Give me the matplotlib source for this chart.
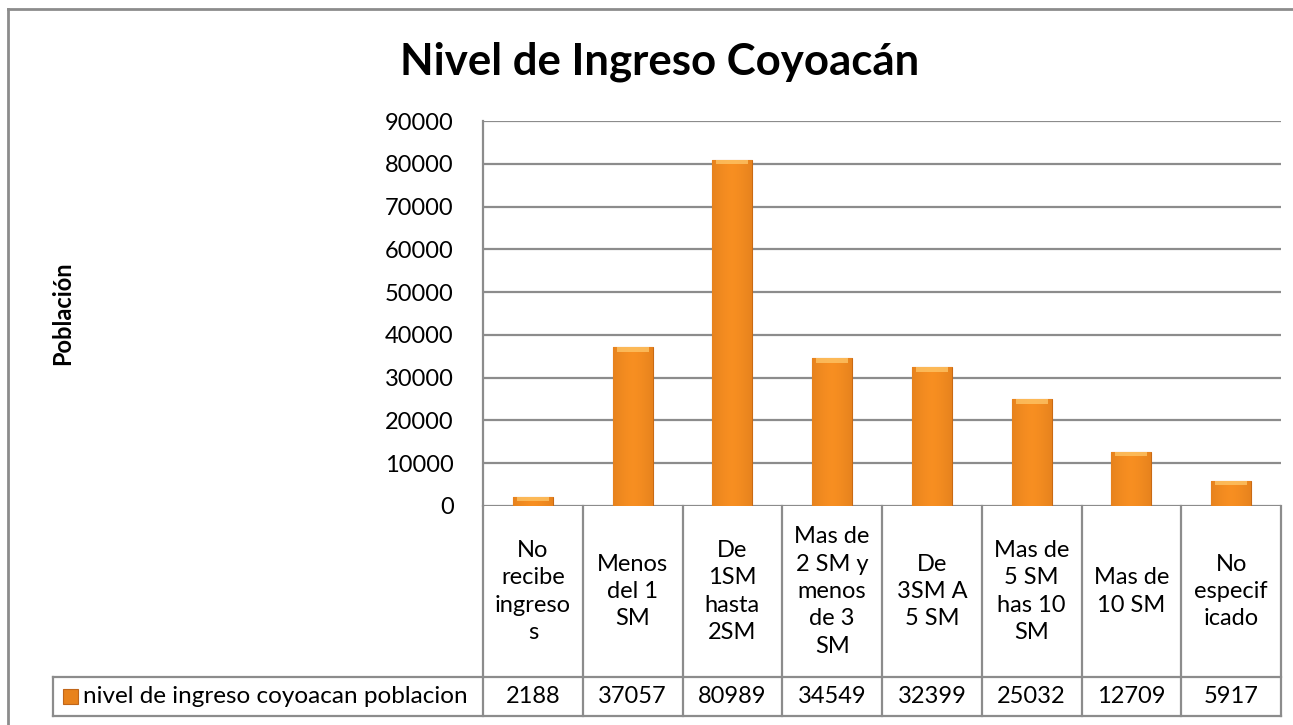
import matplotlib.pyplot as plt
import matplotlib.transforms as mtransforms
import numpy as np

categories = [
    "No\nrecibe\ningreso\ns",
    "Menos\ndel 1\nSM",
    "De\n1SM\nhasta\n2SM",
    "Mas de\n2 SM y\nmenos\nde 3\nSM",
    "De\n3SM A\n5 SM",
    "Mas de\n5 SM\nhas 10\nSM",
    "Mas de\n10 SM",
    "No\nespecif\nicado",
]
poblacion = [2188, 37057, 80989, 34549, 32399, 25032, 12709, 5917]
serie = "nivel de ingreso coyoacan poblacion"
yticks = list(range(0, 90001, 10000))

plt.rcParams['font.family'] = ['Lato', 'DejaVu Sans']

W, H = 1293, 725
fig = plt.figure(figsize=(W / 100, H / 100), dpi=100)

# plot area in pixels
x0, x1 = 483, 1281
y_top, y_zero = 121, 506
ax = fig.add_axes([x0 / W, 1 - y_zero / H, (x1 - x0) / W, (y_zero - y_top) / H])
ax.set_xlim(-0.5, len(categories) - 0.5)
ax.set_ylim(0, 90000)

fs = 17
grid_col = "#8c8c8c"
for v in yticks:
    ax.axhline(v, color=grid_col, lw=1.6, zorder=1)
ax.set_yticks(yticks)
ax.set_yticklabels([str(v) for v in yticks], fontsize=fs)
ax.tick_params(axis="y", length=0, pad=21)
ax.set_xticks([])
for s in ["top", "right", "bottom"]:
    ax.spines[s].set_visible(False)
ax.spines["left"].set_color(grid_col)
ax.spines["left"].set_linewidth(1.6)

# bars with a horizontal gradient
x = np.arange(len(categories))
bars = ax.bar(x, poblacion, width=0.4, color="#f28a1e", edgecolor="#c96a14",
              linewidth=0.8, zorder=2)
grad = np.linspace(-1, 1, 200)
shade = 1 - 0.35 * np.abs(grad) ** 1.5
base = np.array([0.97, 0.56, 0.13])
dark = np.array([0.78, 0.42, 0.09])
img = (dark[None, :] + (base - dark)[None, :] * shade[:, None])[None, :, :]
for b in bars:
    bx, bw, bh = b.get_x(), b.get_width(), b.get_height()
    im = ax.imshow(img, extent=[bx, bx + bw, 0, bh], aspect="auto", zorder=2.5)
    im.set_clip_path(b)
    # light top cap
    cap = min(1100, bh * 0.5)
    ax.bar(bx + bw / 2, cap, width=bw * 0.8, bottom=bh - cap,
           color="#ffc86a", alpha=0.75, zorder=3, linewidth=0)

# data table below the axis
trans = mtransforms.blended_transform_factory(ax.transData, ax.transAxes)
ph = y_zero - y_top
row1 = -(677 - y_zero) / ph
row2 = -(716 - y_zero) / ph
leg_left = (53 - x0) / (x1 - x0)

lkw = dict(color=grid_col, lw=1.6, clip_on=False, zorder=1)
for i in range(len(categories) + 1):
    ax.plot([i - 0.5, i - 0.5], [0, row2], transform=trans, **lkw)
ax.plot([leg_left, 1], [row1, row1], transform=ax.transAxes, **lkw)
ax.plot([leg_left, 1], [row2, row2], transform=ax.transAxes, **lkw)
ax.plot([leg_left, leg_left], [row1, row2], transform=ax.transAxes, **lkw)

for i, (c, v) in enumerate(zip(categories, poblacion)):
    ax.text(i, row1 / 2, c, transform=trans, ha="center", va="center",
            fontsize=fs, linespacing=1.38)
    ax.text(i, (row1 + row2) / 2, str(v), transform=trans, ha="center",
            va="center", fontsize=fs)

# legend key in the table
ax.text((83 - x0) / (x1 - x0), (row1 + row2) / 2, serie, transform=ax.transAxes,
        ha="left", va="center", fontsize=17.5)
key_x = (63 - x0) / (x1 - x0)
key_w = 15 / (x1 - x0)
key_h = 15 / ph
ax.add_patch(plt.Rectangle((key_x, (row1 + row2) / 2 - key_h / 2), key_w, key_h,
                           transform=ax.transAxes, facecolor="#e8821c",
                           edgecolor="#c0661a", lw=0.8, clip_on=False))

fig.text(660 / W, 1 - 62 / H, "Nivel de Ingreso Coyoacán", ha="center",
         va="center", fontsize=31.5, fontweight="bold")
fig.text(63 / W, 1 - 313 / H, "Población", ha="center", va="center",
         rotation=90, fontsize=17, fontweight="bold")

# outer chart frame
fig.add_artist(plt.Line2D([8 / W, 1], [1 - 9 / H, 1 - 9 / H],
                          transform=fig.transFigure, color="#8c8c8c", lw=2))
fig.add_artist(plt.Line2D([8 / W, 8 / W], [0, 1 - 9 / H],
                          transform=fig.transFigure, color="#8c8c8c", lw=2))

fig.savefig("out.png", dpi=100)
